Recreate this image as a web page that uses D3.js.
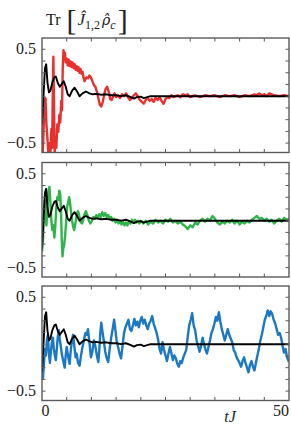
<!DOCTYPE html>
<html>
<head>
<meta charset="utf-8">
<script src="https://cdn.jsdelivr.net/npm/d3@7"></script>
<style>
  body { margin: 0; background: #fff; }
  svg text { font-family: "Liberation Serif", "Times New Roman", serif; fill: #222; }
</style>
</head>
<body>
<svg id="chart" width="291" height="425" font-family="Liberation Serif"></svg>
<script>
//time axis ticks and y ticks
var xTicks = [0, 5, 10, 15, 20, 25, 30, 35, 40, 45, 50];
var yTicks = [-0.5, -0.375, -0.25, -0.125, 0, 0.125, 0.25, 0.375, 0.5];
var yLabels = [0.5, -0.5];

//averaged trace, same in all three panels [tJ, value]
var meanTrace = [[0,-0.3],[0.3,0.0],[0.6,0.3],[0.85,0.34],[1.1,0.15],[1.4,0.04],[1.7,0.06],[2.1,0.15],[2.5,0.2],[2.8,0.21],[3.2,0.14],[3.6,0.1],[4.0,0.13],[4.4,0.16],[4.8,0.1],[5.2,0.02],[5.6,0.0],[6.1,0.06],[6.6,0.09],[7.1,0.05],[7.6,0.0],[8.2,0.03],[8.9,0.05],[9.6,0.03],[10.3,0.02],[11,0.025],[12,0.015],[13,0.02],[14,0.01],[15,0.01],[16,0.0],[17,0.01],[18,-0.01],[18.6,-0.025],[19.2,-0.01],[20,-0.005],[20.6,-0.02],[21.3,-0.01],[22,0.0],[24,0.0],[50,0.0]];

//single trajectory, top panel
var redTrace = [[0,-0.3],[0.15,-0.6],[0.3,-0.4],[0.5,-0.1],[0.7,-0.02],[0.9,-0.3],[1.1,-0.45],[1.3,-0.62],[1.5,-0.5],[1.7,-0.62],[1.9,-0.35],[2.05,-0.55],[2.2,0.1],[2.3,0.42],[2.4,0.05],[2.55,-0.62],[2.7,-0.45],[2.9,-0.55],[3.1,-0.3],[3.3,-0.38],[3.5,-0.2],[3.7,-0.28],[3.9,-0.05],[4.05,-0.15],[4.2,0.3],[4.35,0.49],[4.5,0.4],[4.65,0.46],[4.8,0.36],[5.0,0.4],[5.2,0.33],[5.4,0.39],[5.6,0.32],[5.8,0.37],[6.0,0.31],[6.2,0.36],[6.4,0.3],[6.6,0.34],[6.8,0.28],[7.0,0.32],[7.2,0.27],[7.4,0.31],[7.6,0.25],[7.8,0.29],[8.0,0.24],[8.2,0.26],[8.4,0.2],[8.6,0.16],[8.8,0.18],[9.0,0.2],[9.3,0.19],[9.6,0.22],[9.9,0.2],[10.2,0.16],[10.5,0.12],[10.8,0.1],[11.1,0.05],[11.4,-0.02],[11.7,-0.09],[12.0,-0.11],[12.3,-0.06],[12.6,0.02],[12.9,0.08],[13.2,0.1],[13.5,0.05],[13.8,-0.03],[14.1,-0.04],[14.4,0.0],[14.7,0.03],[15.0,-0.01],[15.4,0.01],[15.8,-0.02],[16.2,0.02],[16.6,0.0],[17.0,0.03],[17.4,-0.01],[17.8,-0.04],[18.2,-0.02],[18.6,0.01],[19.0,0.03],[19.4,0.0],[19.8,-0.04],[20.2,-0.06],[20.6,-0.08],[21.0,-0.04],[21.4,-0.02],[21.8,-0.05],[22.2,-0.03],[22.6,-0.06],[23.0,-0.02],[23.4,-0.04],[23.8,-0.01],[24.2,-0.05],[24.6,-0.08],[25.0,-0.03],[25.4,-0.01],[25.8,-0.02],[26.2,0.01],[26.6,-0.01],[27.0,0.0],[27.5,0.01],[28,-0.01],[28.5,0.02],[29,0.01],[29.5,0.02],[30,-0.01],[30.5,0.0],[31,0.01],[32,-0.01],[33,0.01],[34,0.0],[35,0.01],[36,-0.01],[37,0.01],[38,0.0],[39,0.01],[40,-0.01],[41,0.01],[42,0.0],[43,0.02],[43.5,0.01],[44,0.03],[44.5,0.01],[45,0.02],[45.5,0.0],[46,0.03],[46.5,0.02],[47,0.01],[48,0.0],[49,0.01],[50,0.0]];

//single trajectory, middle panel
var greenTrace = [[0,-0.33],[0.2,-0.2],[0.4,0.1],[0.55,0.22],[0.7,0.05],[0.9,-0.05],[1.1,0.15],[1.3,0.3],[1.5,0.36],[1.7,0.2],[1.9,0.0],[2.1,-0.1],[2.3,-0.05],[2.5,-0.18],[2.7,-0.05],[2.9,0.15],[3.1,0.25],[3.3,0.22],[3.5,0.32],[3.7,0.28],[3.85,0.1],[4.0,-0.2],[4.15,-0.38],[4.3,-0.3],[4.5,-0.25],[4.7,-0.15],[4.9,0.0],[5.1,0.15],[5.3,0.2],[5.5,0.25],[5.7,0.18],[5.9,0.08],[6.1,0.0],[6.3,-0.06],[6.5,-0.1],[6.7,-0.05],[6.9,0.02],[7.1,0.08],[7.3,0.1],[7.5,0.06],[7.7,0.02],[7.9,-0.02],[8.1,-0.03],[8.3,0.0],[8.5,0.05],[8.7,0.08],[8.9,0.1],[9.1,0.07],[9.3,0.03],[9.5,0.0],[9.8,-0.03],[10.1,0.0],[10.4,0.04],[10.7,0.02],[11.0,0.06],[11.3,0.03],[11.6,0.07],[11.9,0.04],[12.2,0.09],[12.5,0.05],[12.8,0.08],[13.1,0.04],[13.4,0.06],[13.7,0.02],[14.0,0.04],[14.3,0.0],[14.6,0.02],[14.9,-0.02],[15.2,0.01],[15.5,-0.03],[15.8,0.0],[16.1,-0.04],[16.4,-0.01],[16.7,-0.05],[17.0,-0.02],[17.3,-0.05],[17.6,-0.01],[17.9,-0.03],[18.2,0.01],[18.5,-0.02],[18.8,0.01],[19.1,-0.02],[19.4,0.0],[19.7,-0.03],[20,0.0],[20.5,-0.03],[21,0.0],[21.5,-0.04],[22,-0.01],[22.5,-0.03],[23,0.01],[23.5,-0.02],[24,0.0],[24.5,-0.03],[25,0.01],[25.5,-0.01],[26,0.02],[26.5,-0.02],[27,0.0],[27.5,-0.03],[28,-0.01],[28.5,-0.04],[29,-0.06],[29.5,-0.09],[30,-0.05],[30.5,-0.07],[31,-0.02],[31.5,-0.04],[32,0.0],[32.5,0.02],[33,-0.01],[33.5,0.02],[34,0.0],[34.5,0.05],[35,0.02],[35.5,-0.02],[36,-0.04],[36.5,-0.01],[37,-0.03],[37.5,0.0],[38,-0.02],[38.5,0.01],[39,-0.03],[39.5,0.0],[40,-0.04],[40.5,-0.01],[41,-0.03],[41.5,0.0],[42,-0.02],[42.5,0.01],[43,0.03],[43.5,0.05],[44,0.02],[44.5,0.03],[45,0.0],[45.5,0.02],[46,-0.01],[46.5,0.01],[47,-0.03],[47.5,0.0],[48,0.02],[48.5,-0.01],[49,0.03],[49.5,0.01],[50,0.02]];

//single trajectory, bottom panel
var blueTrace = [[0,-0.28],[0.2,-0.36],[0.4,-0.2],[0.6,-0.05],[0.8,-0.12],[1.0,0.05],[1.2,0.1],[1.4,-0.1],[1.6,-0.2],[1.8,-0.08],[2.0,0.02],[2.2,0.07],[2.4,-0.05],[2.6,-0.12],[2.8,-0.17],[3.0,-0.05],[3.2,0.08],[3.4,0.15],[3.6,0.05],[3.8,-0.02],[4.0,-0.1],[4.3,-0.18],[4.6,-0.25],[4.8,-0.12],[5.0,-0.03],[5.2,-0.1],[5.4,-0.16],[5.6,-0.21],[5.8,-0.08],[6.0,0.02],[6.3,0.1],[6.5,0.0],[6.8,-0.14],[7.0,-0.1],[7.3,-0.2],[7.6,-0.23],[7.9,-0.12],[8.2,-0.03],[8.5,0.05],[8.8,0.12],[9.1,0.1],[9.3,0.16],[9.6,0.02],[9.9,-0.14],[10.2,-0.08],[10.5,0.04],[10.8,-0.02],[11.1,-0.12],[11.4,-0.19],[11.6,-0.06],[11.8,0.12],[12.0,0.23],[12.2,0.15],[12.5,0.04],[12.8,-0.08],[13.1,-0.15],[13.4,-0.19],[13.7,-0.05],[14.0,0.07],[14.3,0.16],[14.6,0.26],[14.8,0.18],[15.1,0.04],[15.4,-0.03],[15.7,-0.1],[16.0,-0.15],[16.3,-0.02],[16.6,0.12],[16.9,0.18],[17.2,0.22],[17.5,0.26],[17.8,0.16],[18.1,0.14],[18.4,0.2],[18.7,0.27],[19.0,0.2],[19.3,0.24],[19.6,0.18],[19.9,0.25],[20.2,0.29],[20.5,0.22],[20.8,0.26],[21.1,0.2],[21.4,0.16],[21.7,0.22],[22.0,0.25],[22.3,0.3],[22.6,0.22],[22.9,0.17],[23.2,0.12],[23.5,0.05],[23.8,-0.05],[24.1,-0.1],[24.4,0.02],[24.7,-0.06],[25.0,-0.12],[25.3,-0.18],[25.6,-0.1],[25.9,-0.03],[26.2,-0.1],[26.5,-0.17],[26.8,-0.12],[27.1,-0.15],[27.4,-0.21],[27.7,-0.24],[28.0,-0.18],[28.3,-0.2],[28.6,-0.14],[28.9,-0.1],[29.2,-0.06],[29.5,0.08],[29.8,0.2],[30.1,0.26],[30.4,0.33],[30.7,0.2],[31.0,0.15],[31.3,0.04],[31.6,-0.02],[31.9,-0.08],[32.2,-0.02],[32.5,0.07],[32.8,0.0],[33.1,-0.06],[33.4,-0.1],[33.7,-0.03],[34.0,0.04],[34.3,0.12],[34.6,0.16],[34.9,0.22],[35.2,0.29],[35.5,0.25],[35.8,0.34],[36.1,0.24],[36.4,0.16],[36.7,0.1],[37.0,0.04],[37.3,0.1],[37.6,0.16],[37.9,0.1],[38.2,0.06],[38.5,0.02],[38.8,-0.06],[39.1,-0.09],[39.4,-0.14],[39.7,-0.17],[40.0,-0.2],[40.3,-0.24],[40.6,-0.18],[40.9,-0.14],[41.2,-0.2],[41.5,-0.25],[41.8,-0.3],[42.1,-0.22],[42.4,-0.18],[42.7,-0.24],[43.0,-0.28],[43.3,-0.2],[43.6,-0.12],[43.9,-0.05],[44.2,0.04],[44.5,0.1],[44.8,0.18],[45.1,0.26],[45.4,0.3],[45.7,0.36],[46.0,0.3],[46.3,0.35],[46.6,0.32],[46.9,0.26],[47.2,0.22],[47.5,0.16],[47.8,0.1],[48.1,0.12],[48.4,0.07],[48.7,-0.02],[49.0,-0.09],[49.3,-0.05],[49.6,-0.14],[50,-0.19]];

var traces = [redTrace, greenTrace, blueTrace];
var traceColors = ["#e8302e", "#2fb44a", "#1b78c4"];

var svg = d3.select("#chart");

//panel geometry
var left = 42, right = 289,
	panelTops = [38, 162.5, 286],
	panelH = 114.5,
	frameColor = "#5a5a5a",
	tickLen = 3.5;

var x = d3.scaleLinear().domain([0, 50]).range([left, right]);

var line = d3.line()
	.x(function (d) { return x(d[0]); });

//title  Tr [ J_{1,2} rho_c ]
var title = svg.append("text")
	.attr("x", 46)
	.attr("y", 25)
	.style("font-size", "16px");
title.append("tspan").text("Tr ");
title.append("tspan").attr("dx", 2).attr("dy", 5).style("font-size", "30px").style("font-weight", "300").text("[");
title.append("tspan").attr("dx", 1).attr("dy", -5).style("font-style", "italic").style("font-size", "17px").text("Ĵ");
title.append("tspan").attr("dy", 4).style("font-size", "12px").text("1,2");
title.append("tspan").attr("dx", 2).attr("dy", -4)
	.style("font-family", "'DejaVu Serif'")
	.style("font-style", "italic").style("font-size", "14px")
	.text("ρ\u0302");
title.append("tspan").attr("dy", 4).style("font-style", "italic").style("font-size", "12px").text("c");
title.append("tspan").attr("dx", 2).attr("dy", 1).style("font-size", "30px").style("font-weight", "300").text("]");

traces.forEach(function (trace, i) {
	var top = panelTops[i];
	var y = d3.scaleLinear().domain([-0.6, 0.62]).range([top + panelH, top]);
	line.y(function (d) { return y(d[1]); });

	var clipId = "clip" + i;
	svg.append("clipPath").attr("id", clipId)
		.append("rect")
		.attr("x", left).attr("y", top)
		.attr("width", right - left).attr("height", panelH);

	var g = svg.append("g").attr("clip-path", "url(#" + clipId + ")");

	//noisy single trajectory
	g.append("path")
		.datum(trace)
		.attr("d", line)
		.attr("fill", "none")
		.attr("stroke", traceColors[i])
		.attr("stroke-width", 2.4)
		.attr("stroke-linejoin", "round");

	//averaged trace on top
	g.append("path")
		.datum(meanTrace)
		.attr("d", line)
		.attr("fill", "none")
		.attr("stroke", "#000")
		.attr("stroke-width", 1.9)
		.attr("stroke-linejoin", "round");

	//frame
	svg.append("rect")
		.attr("x", left).attr("y", top)
		.attr("width", right - left).attr("height", panelH)
		.attr("fill", "none")
		.attr("stroke", frameColor)
		.attr("stroke-width", 1.4);

	//inward ticks, left and right
	var yt = svg.append("g").attr("stroke", frameColor).attr("stroke-width", 1);
	yTicks.forEach(function (v) {
		yt.append("line").attr("x1", left).attr("x2", left + tickLen).attr("y1", y(v)).attr("y2", y(v));
		yt.append("line").attr("x1", right).attr("x2", right - tickLen).attr("y1", y(v)).attr("y2", y(v));
	});
	//inward ticks, top and bottom
	xTicks.slice(1, -1).forEach(function (t) {
		yt.append("line").attr("x1", x(t)).attr("x2", x(t)).attr("y1", top).attr("y2", top + tickLen);
		yt.append("line").attr("x1", x(t)).attr("x2", x(t)).attr("y1", top + panelH).attr("y2", top + panelH - tickLen);
	});

	//y tick labels
	yLabels.forEach(function (v) {
		svg.append("text")
			.attr("x", 36)
			.attr("y", y(v) + 5)
			.attr("text-anchor", "end")
			.style("font-size", "16px")
			.text(v < 0 ? "\u2212" + Math.abs(v) : String(v));
	});
});

//x tick labels under bottom panel
var bottom = panelTops[2] + panelH;
svg.append("text")
	.attr("x", x(0) + 3.5)
	.attr("y", bottom + 15)
	.attr("text-anchor", "middle")
	.style("font-size", "16px")
	.text(xTicks[0]);
svg.append("text")
	.attr("x", x(50) - 8)
	.attr("y", bottom + 15)
	.attr("text-anchor", "middle")
	.style("font-size", "16px")
	.text(xTicks[xTicks.length - 1]);

//x axis label
svg.append("text")
	.attr("x", 230)
	.attr("y", bottom + 21)
	.attr("text-anchor", "middle")
	.style("font-size", "16px")
	.style("font-style", "italic")
	.text("tJ");
</script>
</body>
</html>
